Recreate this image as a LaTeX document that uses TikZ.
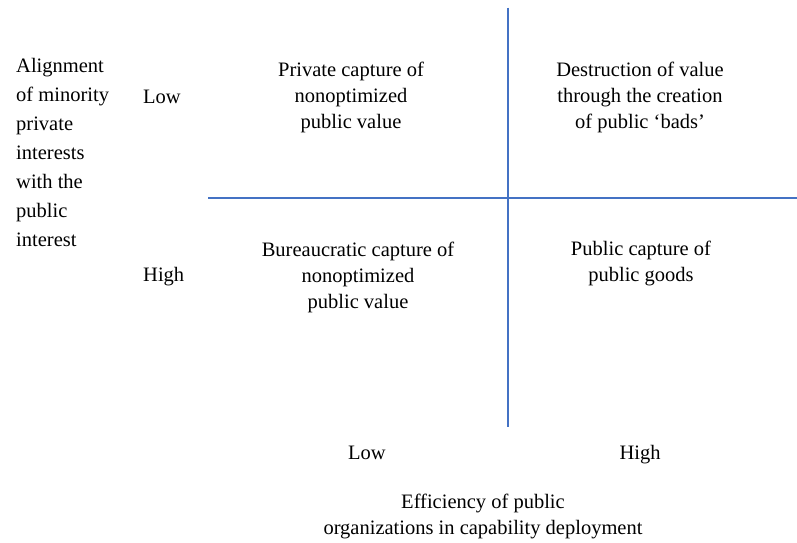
\documentclass[tikz,border=0pt]{standalone}
\usepackage{fontspec}
\setmainfont{Liberation Serif}
\definecolor{axisblue}{HTML}{4472C4}
\begin{document}
\begin{tikzpicture}[x=1pt,y=-1pt,
  lbl/.style={inner sep=0pt, font=\fontsize{20.5}{26}\selectfont, align=center},
  side/.style={inner sep=0pt, font=\fontsize{20.5}{29}\selectfont, align=left},
  axis/.style={draw=axisblue, line width=2pt}]
\useasboundingbox (0,0) rectangle (797,542);
% axes
\coordinate (vt) at (507.5,7.5);
\coordinate (vb) at (507.5,427);
\coordinate (hl) at (208,198);
\coordinate (hr) at (797,198);
\draw[axis] (vt) -- (vb);
\draw[axis] (hl) -- (hr);
% quadrant texts
\node[lbl] (q1) at (351,97) {Private capture of\\nonoptimized\\public value};
\node[lbl] (q2) at (640,97) {Destruction of value\\through the creation\\of public ‘bads’};
\node[lbl] (q3) at (358,277) {Bureaucratic capture of\\nonoptimized\\public value};
\node[lbl] (q4) at (641,263) {Public capture of\\public goods};
% vertical axis labels
\node[side, anchor=west] (ytitle) at (16,152) {Alignment\\of minority\\private\\interests\\with the\\public\\interest};
\node[lbl, anchor=base west] (ylow) at (143,103) {Low};
\node[lbl, anchor=base west] (yhigh) at (143,281) {High};
% horizontal axis labels
\node[lbl, anchor=base] (xlow) at (367,459) {Low};
\node[lbl, anchor=base] (xhigh) at (640,459) {High};
\node[lbl] (xtitle) at (483,516) {Efficiency of public\\organizations in capability deployment};
\end{tikzpicture}
\end{document}
